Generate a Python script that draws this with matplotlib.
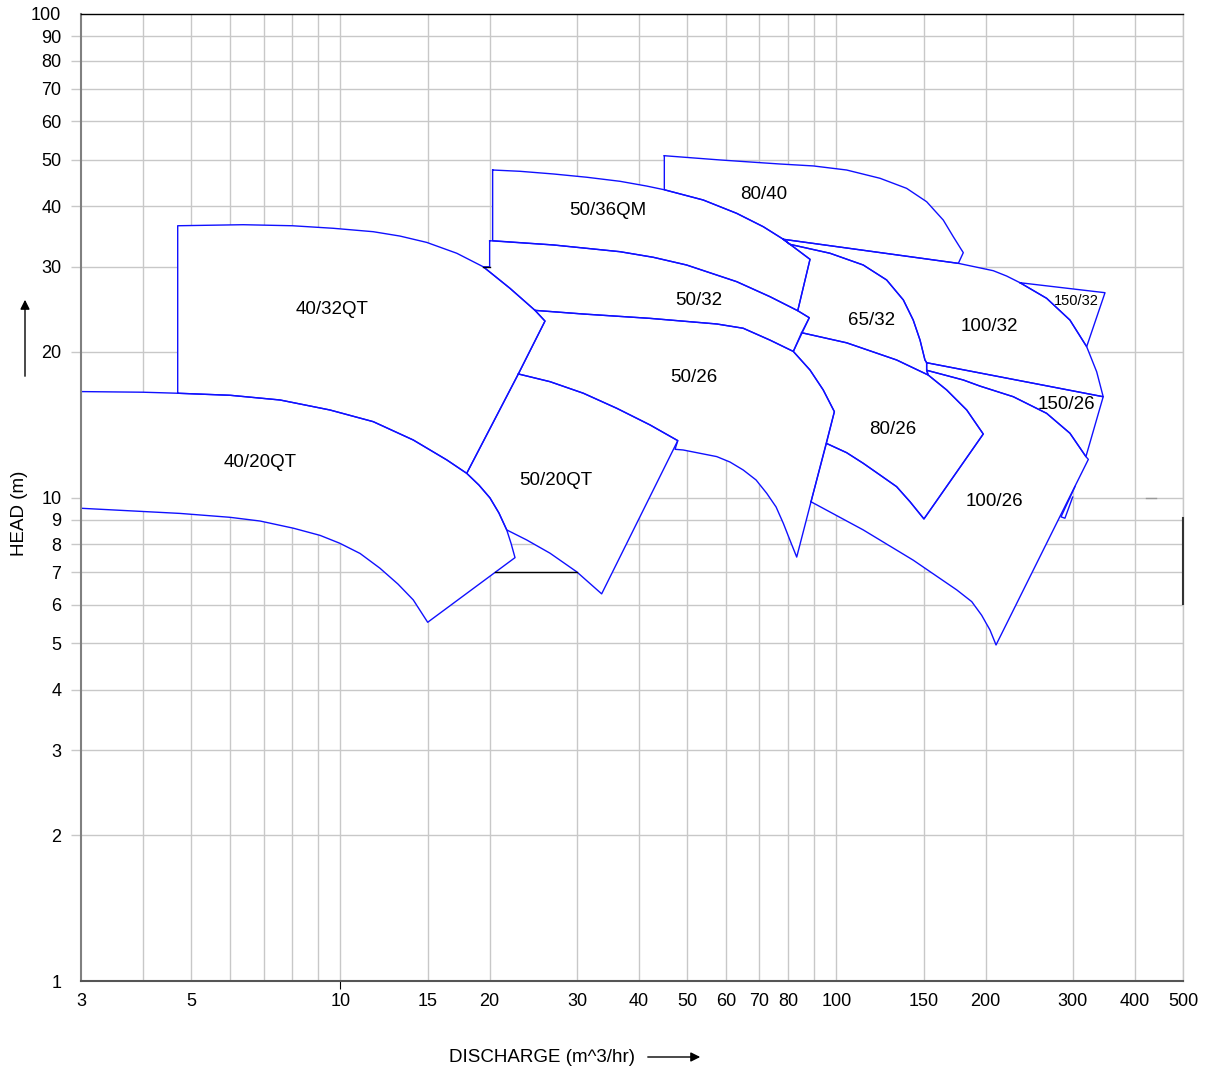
import matplotlib
matplotlib.use("Agg")
import matplotlib.pyplot as plt
from matplotlib.ticker import NullLocator

plt.rcParams['font.family'] = ['Liberation Sans', 'DejaVu Sans']

# pump range envelopes, flow in m^3/hr and head in m
q_40_20qt = [3.0, 4.0, 4.7, 6.0, 7.56, 9.53, 11.65, 14.03, 16.39, 17.98, 19.03, 20.03, 20.88, 21.65, 22.08, 22.5,
             15.0, 14.03, 13.07, 12.02, 10.96, 9.98, 9.10, 8.04, 6.89, 5.99, 4.75, 3.0]
h_40_20qt = [16.56, 16.51, 16.43, 16.27, 15.91, 15.17, 14.35, 13.15, 11.96, 11.22, 10.61, 9.98, 9.29, 8.57, 8.05, 7.51,
             5.52, 6.14, 6.62, 7.14, 7.66, 8.04, 8.35, 8.64, 8.94, 9.10, 9.27, 9.50]

q_40_32qt = [4.7, 4.7, 6.37, 8.0, 9.68, 11.65, 13.19, 14.93, 17.17, 19.42, 21.98, 24.69, 25.86, 22.85, 17.98,
             16.39, 14.03, 11.65, 9.53, 7.56, 6.0]
h_40_32qt = [16.43, 36.48, 36.66, 36.48, 36.04, 35.46, 34.73, 33.7, 32.0, 30.0, 27.08, 24.38, 23.17, 18.01, 11.22,
             11.96, 13.15, 14.35, 15.17, 15.91, 16.27]

q_50_36qm = [20.28, 23.02, 26.89, 31.38, 36.63, 41.46, 45.0, 53.9, 62.97, 71.25, 78.2, 88.5, 83.6,
             73.5, 62.97, 49.9, 42.76, 36.63, 26.89, 20.28]
h_50_36qm = [47.57, 47.28, 46.68, 45.96, 45.08, 44.07, 43.3, 41.24, 38.70, 36.31, 34.2, 31.09, 24.34,
             26.02, 27.95, 30.26, 31.39, 32.24, 33.29, 33.97]

q_50_32 = [20.0, 26.89, 36.63, 42.76, 49.9, 62.97, 73.5, 83.6, 88.2, 81.9, 73.5, 64.9, 57.4, 42.1, 30.9,
           24.69, 21.98, 19.42, 20.0]
h_50_32 = [33.97, 33.29, 32.24, 31.39, 30.26, 27.95, 26.02, 24.34, 23.54, 20.05, 21.16, 22.39, 22.85, 23.47, 23.96,
           24.38, 27.08, 30.0, 30.0]

q_80_40 = [45.0, 58.3, 77.0, 89.9, 104.9, 122.5, 138.6, 152.1, 164.3, 172.1, 180.3, 176.2,
           78.2, 71.25, 62.97, 53.9, 45.0]
h_80_40 = [50.92, 49.9, 48.95, 48.5, 47.57, 45.73, 43.59, 40.9, 37.48, 34.63, 32.09, 30.5,
           34.2, 36.31, 38.70, 41.24, 43.3]

q_65_32 = [78.2, 80.6, 97.1, 113.3, 126.3, 136.5, 142.9, 147.5, 150.9, 152.1, 152.1, 153.2,
           132.3, 104.9, 85.1, 88.2, 83.6, 88.5]
h_65_32 = [34.2, 33.39, 32.0, 30.26, 28.18, 25.62, 23.28, 21.16, 19.25, 19.0, 18.33, 17.92,
           19.25, 20.89, 21.92, 23.54, 24.34, 31.09]

q_100_32 = [78.2, 176.2, 207.2, 220.5, 234.6, 265.5, 295.8, 319.7, 334.9, 345.2,
            152.1, 150.9, 147.5, 142.9, 136.5, 126.3, 113.3, 97.1, 80.6]
h_100_32 = [34.2, 30.5, 29.45, 28.71, 27.81, 25.82, 23.28, 20.51, 18.2, 16.16,
            19.0, 19.25, 21.16, 23.28, 25.62, 28.18, 30.26, 32.0, 33.39]

q_150_32 = [234.6, 348.1, 319.7, 295.8, 265.5]
h_150_32 = [27.81, 26.52, 20.51, 23.28, 25.82]

q_150_26 = [152.1, 345.2, 318.6, 295.8, 265.5, 227.4, 194.8, 180.3, 152.1]
h_150_26 = [19.0, 16.16, 12.15, 13.58, 14.93, 16.16, 17.0, 17.5, 18.33]

q_50_26 = [24.69, 30.9, 42.1, 57.4, 64.9, 73.5, 81.9, 88.5, 94.1, 99.1, 83.2,
           80.6, 78.2, 75.6, 72.4, 68.9, 64.9, 61.04, 57.4, 49.1, 47.3, 47.9,
           42.1, 36.1, 30.9, 26.47, 22.85, 25.86]
h_50_26 = [24.38, 23.96, 23.47, 22.85, 22.39, 21.16, 20.05, 18.35, 16.69, 15.05, 7.53,
           8.17, 8.84, 9.56, 10.2, 10.87, 11.4, 11.84, 12.15, 12.54, 12.58, 13.11,
           14.13, 15.29, 16.43, 17.36, 18.01, 23.17]

q_50_20qt = [22.85, 26.47, 30.9, 36.1, 42.1, 47.9, 33.64, 29.96, 26.47, 23.75, 21.65, 20.88, 20.03, 19.03, 17.98]
h_50_20qt = [18.01, 17.36, 16.43, 15.29, 14.13, 13.11, 6.32, 7.02, 7.67, 8.17, 8.57, 9.29, 9.98, 10.61, 11.22]

q_80_26 = [85.1, 104.9, 132.3, 153.2, 166.9, 183.2, 197.8, 150.2, 140.8, 132.3, 122.5, 113.3, 104.9, 95.5,
           99.1, 94.1, 88.5, 81.9]
h_80_26 = [21.92, 20.89, 19.25, 17.92, 16.69, 15.17, 13.53, 9.03, 9.80, 10.53, 11.13, 11.77, 12.38, 12.94,
           15.05, 16.69, 18.35, 20.05]

q_100_26 = [88.9, 113.3, 142.9, 174.9, 187.5, 196.3, 204.1, 209.9, 322.2,
            318.6, 295.8, 265.5, 227.4, 194.8, 180.3, 152.1, 153.2,
            166.9, 183.2, 197.8, 150.2, 140.8, 132.3, 122.5, 113.3, 104.9, 95.5]
h_100_26 = [9.80, 8.57, 7.42, 6.44, 6.09, 5.71, 5.32, 4.955, 11.99,
            12.15, 13.58, 14.93, 16.16, 17.0, 17.5, 18.33, 17.92,
            16.69, 15.17, 13.53, 9.03, 9.80, 10.53, 11.13, 11.77, 12.38, 12.94]

# small stray strokes on the original drawing
q_notch = [302.8, 283.8, 289.0, 299.6]
h_notch = [10.53, 9.12, 9.06, 10.02]
q_black7 = [20.5, 30.0]
h_black7 = [7.0, 7.0]
q_black30 = [19.42, 20.0]
h_black30 = [30.0, 30.0]

names = ['40/20QT', '40/32QT', '50/36QM', '50/32', '80/40', '65/32', '100/32', '150/32',
         '150/26', '50/26', '50/20QT', '80/26', '100/26']
flows = [q_40_20qt, q_40_32qt, q_50_36qm, q_50_32, q_80_40, q_65_32, q_100_32, q_150_32,
         q_150_26, q_50_26, q_50_20qt, q_80_26, q_100_26]
heads = [h_40_20qt, h_40_32qt, h_50_36qm, h_50_32, h_80_40, h_65_32, h_100_32, h_150_32,
         h_150_26, h_50_26, h_50_20qt, h_80_26, h_100_26]
# where each model name sits (flow, head)
label_q = [6.89, 9.61, 34.6, 52.9, 71.25, 117.8, 203.5, 304.2, 291.3, 51.5, 27.2, 129.9, 207.9]
label_h = [11.82, 24.5, 39.2, 25.6, 42.4, 23.28, 22.56, 25.53, 15.54, 17.7, 10.82, 13.84, 9.80]

x_ticks = [3, 5, 10, 15, 20, 30, 40, 50, 60, 70, 80, 100, 150, 200, 300, 400, 500]
x_grid = [4, 5, 6, 7, 8, 9, 10, 15, 20, 30, 40, 50, 60, 70, 80, 90, 100, 150, 200, 300, 400, 500]
y_ticks = [1, 2, 3, 4, 5, 6, 7, 8, 9, 10, 20, 30, 40, 50, 60, 70, 80, 90, 100]
y_grid = [2, 3, 4, 5, 6, 7, 8, 9, 10, 20, 30, 40, 50, 60, 70, 80, 90]

blue = '#1010ff'
gridc = '#c8c8c8'

fig = plt.figure(figsize=(12.07, 10.70), dpi=100)
ax = fig.add_axes([81/1207, 1-981/1070, (1183-81)/1207, (981-14)/1070])
ax.set_xscale('log')
ax.set_yscale('log')
ax.set_xlim(3, 500)
ax.set_ylim(1, 100)

for g in x_grid:
    ax.axvline(g, color=gridc, lw=1, zorder=0.5)
for g in y_grid:
    ax.axhline(g, color=gridc, lw=1, zorder=0.5)

# white fills first so every outline stays visible on top
for q, h in zip(flows, heads):
    ax.fill(q, h, facecolor='white', edgecolor='none', zorder=2)
for q, h in zip(flows, heads):
    ax.plot(q + [q[0]], h + [h[0]], color=blue, lw=1, zorder=3)

ax.plot(q_notch, h_notch, color=blue, lw=1, zorder=3)
ax.plot(q_black7, h_black7, color='black', lw=1, zorder=3)
ax.plot(q_black30, h_black30, color='black', lw=1, zorder=4)
ax.plot([422, 441], [10, 10], color='#999999', lw=1, zorder=3)
ax.plot([500, 500], [6.02, 9.06], color='#333333', lw=1.5, zorder=6, clip_on=False)

for name, lq, lh in zip(names, label_q, label_h):
    fs = 10.5 if name == '150/32' else 13.5
    ax.text(lq, lh, name, fontsize=fs, ha='center', va='center', zorder=5)

ax.xaxis.set_minor_locator(NullLocator())
ax.yaxis.set_minor_locator(NullLocator())
ax.set_xticks(x_ticks, labels=[str(v) for v in x_ticks])
ax.set_yticks(y_ticks, labels=[str(v) for v in y_ticks])
ax.tick_params(axis='x', length=0, pad=9, labelsize=13)
ax.tick_params(axis='y', length=7.2, width=1, color=gridc, pad=7, labelsize=13)
for t, v in zip(ax.yaxis.get_major_ticks(), y_ticks):
    if v in (1, 100):
        t.tick1line.set_visible(False)
    if v == 10:
        t.tick1line.set_color('black')
for t, v in zip(ax.xaxis.get_major_ticks(), x_ticks):
    if v == 10:
        t.tick1line.set_markersize(5.8)
        t.tick1line.set_color('black')

ax.spines['top'].set_color('black')
ax.spines['top'].set_linewidth(1)
ax.spines['right'].set_color(gridc)
ax.spines['right'].set_linewidth(1)
ax.spines['left'].set_color('#808080')
ax.spines['left'].set_linewidth(1.5)
ax.spines['bottom'].set_color('#555555')
ax.spines['bottom'].set_linewidth(1.5)
for s in ax.spines.values():
    s.set_zorder(5)

fig.text(542/1207, 1-1057/1070, 'DISCHARGE (m^3/hr)', fontsize=13.5, ha='center', va='center')
fig.text(19/1207, 1-513/1070, 'HEAD (m)', fontsize=13.5, ha='center', va='center', rotation=90)
ax.annotate('', xy=(703/1207, 1-1057/1070), xytext=(645/1207, 1-1057/1070),
            xycoords='figure fraction', textcoords='figure fraction',
            arrowprops=dict(arrowstyle='-|>', color='black', lw=1, mutation_scale=14))
ax.annotate('', xy=(25/1207, 1-297/1070), xytext=(25/1207, 1-379/1070),
            xycoords='figure fraction', textcoords='figure fraction',
            arrowprops=dict(arrowstyle='-|>', color='black', lw=1, mutation_scale=14))

fig.savefig('out.png', dpi=100)
